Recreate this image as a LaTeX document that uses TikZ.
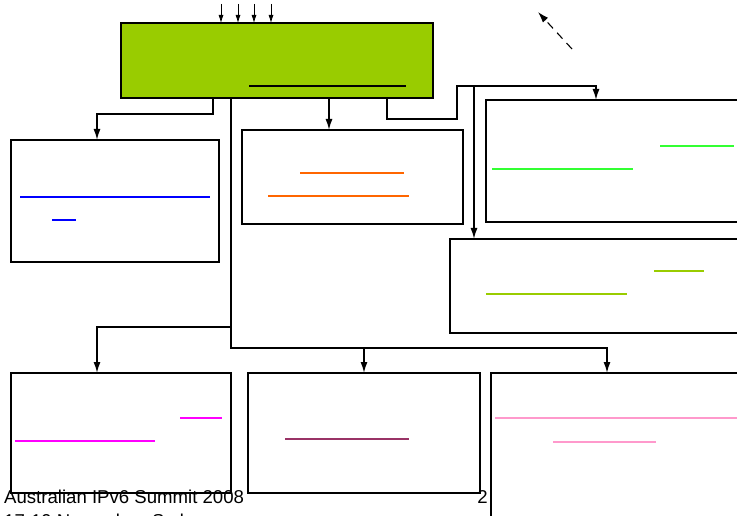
\documentclass[tikz,border=0pt]{standalone}
\usepackage{fontspec}
\setmainfont{Liberation Sans}
\usetikzlibrary{arrows.meta}
\definecolor{leaf}{HTML}{99CC00}
\definecolor{linkblue}{HTML}{0000FF}
\definecolor{linkorange}{HTML}{FF6600}
\definecolor{linkgreen}{HTML}{33FF33}
\definecolor{linkmagenta}{HTML}{FF00FF}
\definecolor{linkplum}{HTML}{993366}
\definecolor{linkpink}{HTML}{FF99CC}
\tikzset{
  panel/.style={draw=black, line width=1.5pt, inner sep=0pt, outer sep=0pt, anchor=north west, fill=white},
  conn/.style={draw=black, line width=1.5pt, -{Latex[length=11pt,width=7pt]}},
  feed/.style={draw=black, line width=0.8pt, -{Latex[length=8pt,width=5pt]}},
  rule/.style={line width=2pt},
  caption/.style={inner sep=0pt, font=\fontsize{18.6}{21}\selectfont}
}
\begin{document}
\begin{tikzpicture}[x=1pt, y=-1pt]
\useasboundingbox (0,0) rectangle (737,516);

% boxes
\node[panel, fill=leaf, minimum width=312pt, minimum height=75pt] (G) at (121,23) {};
\node[panel, minimum width=208pt, minimum height=122pt] (L1) at (11,140) {};
\node[panel, minimum width=221pt, minimum height=94pt] (M1) at (242,130) {};
\node[panel, minimum width=280pt, minimum height=122pt] (R1) at (486,100) {};
\node[panel, minimum width=310pt, minimum height=94pt] (R2) at (450,239) {};
\node[panel, minimum width=220pt, minimum height=120pt] (B1) at (11,373) {};
\node[panel, minimum width=232pt, minimum height=120pt] (B2) at (248,373) {};
\node[panel, minimum width=280pt, minimum height=170pt] (B3) at (491,373) {};

% rules inside boxes
\draw[rule, line width=2.5pt] (249,86) -- (406,86);
\draw[rule, linkblue] (20,197) -- (210,197);
\draw[rule, linkblue] (52,220) -- (76,220);
\draw[rule, linkorange] (300,173) -- (404,173);
\draw[rule, linkorange] (268,196) -- (409,196);
\draw[rule, linkgreen] (660,146) -- (734,146);
\draw[rule, linkgreen] (492,169) -- (633,169);
\draw[rule, leaf] (654,271) -- (704,271);
\draw[rule, leaf] (486,294) -- (627,294);
\draw[rule, linkmagenta] (180,418) -- (222,418);
\draw[rule, linkmagenta] (15,441) -- (155,441);
\draw[rule, linkplum] (285,439) -- (409,439);
\draw[rule, linkpink] (495,418) -- (740,418);
\draw[rule, linkpink] (553,442) -- (656,442);

% helper positions
\coordinate (xa) at (213,0);
\coordinate (xb) at (231,0);
\coordinate (xc) at (329,0);
\coordinate (xd) at (387,0);
\coordinate (xl) at (97,0);
\coordinate (xm) at (364,0);
\coordinate (xr) at (607,0);
\coordinate (xf) at (596,0);
\coordinate (xg) at (474,0);
\coordinate (j1) at (457,119);
\coordinate (j2) at (457,86);

% incoming feeds
\foreach \x [count=\i] in {221,238,254,271} {
  \coordinate (in\i) at (\x,4);
  \draw[feed] (in\i) -- (in\i |- G.north);
}
\coordinate (d1) at (572,49);
\coordinate (d2) at (538,12);
\draw[feed, line width=1.1pt, dash pattern=on 8pt off 6pt, -{Latex[length=11pt,width=7pt]}] (d1) -- (d2);

% connectors
\draw[conn] (G.south -| xa) -- ++(0,16) -| (L1.north -| xl);
\draw[conn] (G.south -| xc) -- (M1.north -| xc);
\draw[conn] (G.south -| xd) |- (j1) -- (j2) -| (R1.north -| xf);
\draw[conn] (xg |- j2) -- (R2.north -| xg);
\draw[conn] (G.south -| xb) -- ++(0,250) -| (B3.north -| xr);
\draw[conn] (G.south -| xb) ++(0,229) -| (B1.north -| xl);
\draw[conn] (G.south -| xb) ++(0,250) -| (B2.north -| xm);

% footer
\node[caption, anchor=base west] (foot1) at (4,503) {Australian IPv6 Summit 2008};
\node[caption, anchor=base west] (foot2) at (4,527) {17-19 November, Sydney};
\node[caption, anchor=base east] (page) at (488,503) {2};
\end{tikzpicture}
\end{document}
